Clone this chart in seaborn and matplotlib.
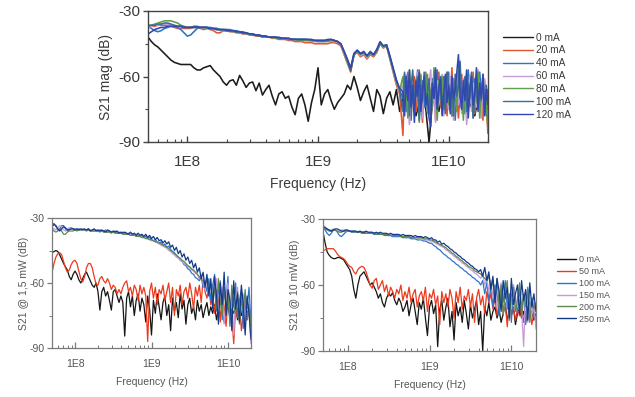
import numpy as np
import pandas as pd
import matplotlib
matplotlib.use("Agg")
import matplotlib.pyplot as plt
from matplotlib.lines import Line2D
from matplotlib.ticker import FixedLocator, LogLocator, NullFormatter
import seaborn as sns

# ---------------- data ----------------
# sweep grids: coarse grid over the full span, finer grid for the noisy top-panel tail
FREQ_HZ = np.logspace(7.7, 10.3, 105)
HEAD_HZ = FREQ_HZ[:78]
TAIL_HZ = np.logspace(9.65, 10.3, 53)

TOP_LABELS = ["0 mA", "20 mA", "40 mA", "60 mA", "80 mA", "100 mA", "120 mA"]
TOP_COLORS = ["#1c1c1c", "#e2562f", "#2f73c4", "#c49ad8", "#5f9e48", "#3b6c98", "#3347b0"]

top_0mA = [-42, -44, -45.5, -46.5, -48, -49.5, -51, -52.5, -53.5, -54, -54.5, -54.5,
           -54.5, -54.5, -56, -57, -57, -56, -55.5, -55, -57, -58.5, -60, -62.5,
           -64, -62, -61.5, -64, -59.5, -62, -65, -63, -62.5, -66.5, -63, -68.5,
           -66, -64, -69, -73, -68, -67, -70, -69, -74, -77.5, -70, -68,
           -73, -80.5, -72, -66, -56, -73, -68, -66, -71, -75, -72, -70,
           -68, -64, -66, -60, -65, -71, -67, -64, -70, -76, -66, -69,
           -77, -70, -67, -73, -66, -76, -70, -67, -73, -70, -78, -72,
           -68, -75, -90, -72, -70, -76, -69, -74, -71, -78, -70, -73,
           -68, -76, -71, -74, -78, -70, -73, -69, -75]

top_20mA_head = [-37, -37, -37, -36.5, -36.5, -36.5, -37, -37, -37.5, -38, -38, -38,
                 -38, -38, -37.5, -37.5, -38, -38.5, -38, -38.5, -39, -40, -40, -39,
                 -39, -39.5, -39.5, -40, -40, -40.5, -40.5, -41, -41, -41.5, -41.5, -42,
                 -42, -42, -42.5, -42.5, -43, -43, -43, -43.5, -43.5, -44, -44, -44,
                 -44.5, -44.5, -44.5, -45, -45, -45, -45, -45, -44.5, -44.5, -45, -46,
                 -50, -54, -58, -50, -49, -51, -50, -52, -50, -51, -49, -45,
                 -47, -46, -52, -58, -64, -68]
top_20mA_tail = [-87, -62, -74, -58, -70, -79, -64, -60, -76, -68, -57, -73, -81, -63,
                 -69, -59, -77, -66, -72, -61, -80, -67, -58, -74, -65, -71, -60, -78,
                 -64, -69, -56, -75, -62, -70, -79, -66, -59, -73, -68, -61, -76, -64,
                 -71, -58, -77, -67, -62, -74, -69, -80, -63, -72, -86]

top_40mA_head = [-37, -38, -39, -39.5, -39, -38, -37.5, -37, -37, -37.5, -38.5, -40,
                 -41.5, -41, -39.5, -38, -37.5, -37.5, -37.5, -37.5, -38, -38, -38.5, -38.5,
                 -38.5, -38.5, -39, -39, -39.5, -39.5, -40, -40.5, -40.5, -41, -41, -41.5,
                 -41.5, -42, -42, -42, -42.5, -42.5, -42.5, -43, -43, -43, -43, -43,
                 -43, -43.5, -43.5, -43.5, -43.5, -43.5, -43.5, -43.5, -43.5, -43.5, -44, -45.5,
                 -49, -53, -57, -50, -48, -50, -49, -51, -49, -50, -48, -44.5,
                 -46.5, -46, -51, -57, -62, -66]
top_40mA_tail = [-70, -58, -76, -63, -67, -80, -60, -72, -65, -57, -78, -69, -62, -74,
                 -59, -71, -66, -79, -61, -68, -75, -57, -70, -64, -77, -60, -73, -67,
                 -58, -76, -63, -71, -80, -65, -59, -74, -68, -62, -77, -66, -57, -72,
                 -64, -79, -61, -70, -75, -58, -67, -73, -62, -78, -66]

top_60mA_head = [-37.5, -37, -36.5, -36.5, -36, -36, -36, -36.5, -37, -37, -37.5, -37.5,
                 -37.5, -37.5, -37.5, -37.5, -37.5, -38, -37.5, -38, -38.5, -38.5, -39, -39,
                 -39, -39, -39.5, -39.5, -40, -40, -40.5, -40.5, -41, -41, -41.5, -41.5,
                 -42, -42, -42, -42.5, -42.5, -42.5, -43, -43, -43, -43, -43.5, -43.5,
                 -43.5, -43.5, -43.5, -44, -44, -44, -44, -43.5, -43.5, -44, -44, -45.5,
                 -49.5, -53, -56, -50, -48.5, -50.5, -49.5, -51.5, -49.5, -50.5, -48.5, -45,
                 -46.5, -46, -51.5, -57.5, -63, -67]
top_60mA_tail = [-64, -75, -59, -71, -82, -66, -61, -77, -69, -58, -73, -65, -79, -60,
                 -70, -76, -63, -57, -74, -68, -81, -62, -72, -66, -59, -78, -64, -70,
                 -75, -60, -67, -80, -63, -58, -73, -69, -77, -61, -65, -82, -71, -59,
                 -76, -63, -68, -74, -57, -70, -79, -64, -61, -75, -69]

top_80mA_head = [-37, -36.5, -36, -35.5, -35, -34.5, -34.5, -34.5, -35, -35.5, -36.5, -37,
                 -37.5, -37.5, -37.5, -37.5, -37.5, -37.5, -38, -38, -38, -38.5, -38.5, -39,
                 -39, -39, -39.5, -39.5, -40, -40, -40.5, -40.5, -41, -41, -41.5, -41.5,
                 -42, -42, -42, -42.5, -42.5, -42.5, -43, -43, -43, -43, -43.5, -43.5,
                 -43.5, -43.5, -43.5, -43.5, -44, -44, -44, -44, -43.5, -43.5, -44, -45.5,
                 -49, -53.5, -57, -50.5, -48.5, -50, -49, -51, -49.5, -50.5, -48.5, -45,
                 -46.5, -46, -51.5, -57, -62.5, -66.5]
top_80mA_tail = [-60, -73, -66, -79, -57, -70, -64, -76, -61, -68, -81, -59, -72, -65,
                 -58, -77, -63, -70, -74, -56, -67, -80, -62, -71, -60, -75, -66, -58,
                 -73, -69, -78, -61, -64, -76, -57, -70, -67, -80, -63, -59, -74, -68,
                 -61, -77, -65, -72, -58, -79, -66, -62, -75, -70, -84]

top_100mA_head = [-36.5, -36.5, -36.5, -36, -36, -35.5, -35.5, -36, -36.5, -37, -37, -37.5,
                  -37.5, -37.5, -37, -37, -37.5, -37.5, -37.5, -38, -38, -38, -38.5, -38.5,
                  -38.5, -39, -39, -39.5, -39.5, -40, -40, -40.5, -41, -41, -41.5, -41.5,
                  -41.5, -42, -42, -42, -42.5, -42.5, -42.5, -42.5, -43, -43, -43, -43,
                  -43, -43, -43.5, -43.5, -43.5, -43.5, -43.5, -43.5, -43, -43.5, -44, -45,
                  -48.5, -52.5, -57.5, -49.5, -48, -49.5, -49, -50.5, -49, -50, -48, -44.5,
                  -46, -45.5, -51, -56.5, -62, -66]
top_100mA_tail = [-76, -59, -68, -62, -78, -65, -57, -72, -69, -60, -80, -64, -71, -58,
                  -74, -67, -61, -79, -63, -70, -56, -75, -66, -60, -73, -68, -77, -58,
                  -65, -71, -62, -78, -59, -69, -64, -53, -72, -66, -60, -76, -63, -70,
                  -58, -79, -67, -61, -74, -65, -71, -59, -77, -64, -70]

top_120mA_head = [-40.5, -39.5, -38.5, -38, -37.5, -37.5, -37, -37, -37, -37, -37, -37.5,
                  -37.5, -37.5, -37.5, -37.5, -37.5, -37.5, -37.5, -38, -38, -38.5, -38.5, -38.5,
                  -39, -39, -39, -39.5, -39.5, -40, -40, -40.5, -40.5, -41, -41, -41.5,
                  -41.5, -42, -42, -42, -42, -42.5, -42.5, -42.5, -43, -43, -43, -43,
                  -43, -43, -43, -43.5, -43.5, -43.5, -43.5, -43, -43, -43.5, -44, -45,
                  -48.5, -52, -56, -49.5, -48, -49.5, -48.5, -50.5, -48.5, -50, -47.5, -44,
                  -46, -45.5, -50.5, -56, -61.5, -65.5]
top_120mA_tail = [-67, -78, -60, -71, -57, -74, -64, -81, -62, -69, -58, -76, -66, -60,
                  -73, -68, -79, -83, -63, -70, -57, -75, -65, -61, -78, -68, -59, -72,
                  -64, -77, -60, -70, -66, -58, -50, -69, -75, -62, -71, -57, -79, -65,
                  -60, -73, -68, -56, -76, -63, -70, -59, -78, -66, -73]

BOT_LABELS = ["0 mA", "50 mA", "100 mA", "150 mA", "200 mA", "250 mA"]
BOT_COLORS = ["#151515", "#ee3a1c", "#2f75cc", "#c89bd8", "#5e8a4c", "#133a8a"]

# --- S21 @ 1.5 mW ---
low_0mA = [-46, -45.5, -45, -45.5, -47, -49, -51, -52.5, -54, -57, -58.5, -56,
           -54.5, -56, -58.5, -60, -58, -56, -55, -57, -59, -61, -62, -60,
           -64, -72.5, -64, -62, -66, -64, -68, -72.5, -64, -63, -66, -69,
           -66, -69, -84.5, -67, -64, -71, -66, -75, -68, -65, -73, -67,
           -70, -78, -66, -72, -84, -68, -74, -65, -71, -77, -69, -66,
           -75, -70, -82, -67, -73, -69, -76, -65, -72, -68, -79, -70,
           -67, -74, -71, -77, -68, -73, -70, -76, -72, -69, -75, -71,
           -74, -70, -77, -72, -75, -71, -78, -73, -70, -76, -72, -74,
           -71, -77, -73, -75, -70, -78, -74, -72, -76]
low_50mA = [-55, -51, -48, -46.5, -46, -47, -50, -53, -55, -54, -51.5, -50,
            -49.5, -51, -54.5, -58, -59.5, -57, -53, -51, -51, -53, -57, -60.5,
            -61, -58, -57, -59, -60, -58, -60, -63, -61, -62, -65, -63,
            -65, -62, -60, -59, -64, -62, -66, -61, -63, -68, -61, -65,
            -62, -66, -87, -64, -60, -67, -62, -70, -63, -65, -61, -68,
            -64, -60, -69, -62, -75, -63, -66, -61, -70, -64, -62, -67,
            -60, -65, -72, -62, -66, -61, -69, -58, -64, -67, -62, -70,
            -66, -74, -63, -68, -78, -65, -71, -80, -67, -70, -75, -88,
            -72, -76, -69, -82, -74, -70, -77, -73, -79]
low_100mA = [-33, -32.5, -34, -35.5, -35, -33.5, -33.5, -35, -36, -35, -34.5, -35,
             -35, -35.5, -35, -35.5, -35, -35.5, -35.5, -35, -35.5, -36, -35.5, -35.5,
             -36, -35.5, -36, -36, -35.5, -36.5, -36, -36.5, -36.5, -36, -37, -36.5,
             -37, -36.5, -37, -37.5, -37, -37.5, -37.5, -38, -37.5, -38, -38.5, -38,
             -39, -38.5, -39.5, -39, -40, -40.5, -40, -41, -41.5, -41, -42.5, -42,
             -43.5, -43, -44.5, -45.5, -46, -47.5, -48, -49.5, -50, -51.5, -52, -53.5,
             -54, -55.5, -56, -57.5, -58, -59, -57, -62, -59, -64, -58, -68,
             -61, -56, -73, -64, -59, -77, -62, -67, -57, -80, -64, -71,
             -60, -75, -68, -63, -81, -66, -72, -62, -78]
low_150mA = [-34.5, -35, -35.5, -34.5, -33.5, -34, -35.5, -36, -35, -34.5, -35, -35.5,
             -35, -35, -35.5, -35.5, -35, -35.5, -35.5, -35.5, -35.5, -36, -36, -35.5,
             -36, -36, -36, -36.5, -36, -36.5, -36.5, -36.5, -36.5, -37, -37, -37,
             -37, -37, -37.5, -37.5, -37.5, -37.5, -38, -38, -38, -38.5, -38.5, -39,
             -39, -39.5, -39.5, -40, -40.5, -40.5, -41, -41.5, -42, -42.5, -43, -43.5,
             -44, -45, -45.5, -46.5, -47, -48, -48.5, -49.5, -50, -51, -51.5, -52.5,
             -53, -54, -54.5, -55.5, -56, -58, -56, -60, -63, -59, -66, -61,
             -70, -64, -58, -75, -66, -62, -79, -68, -60, -73, -65, -84,
             -69, -62, -76, -70, -65, -80, -67, -73, -88]
low_200mA = [-35, -36, -36.5, -36, -35, -36, -37.5, -37.5, -36.5, -36, -36, -36,
             -35.5, -36, -35.5, -35.5, -35.5, -35.5, -36, -35.5, -36, -36, -36, -36,
             -36, -36.5, -36, -36.5, -36.5, -36.5, -36.5, -37, -36.5, -37, -37, -37,
             -37, -37.5, -37.5, -37.5, -37.5, -38, -38, -38, -38.5, -38.5, -38.5, -39,
             -39, -39.5, -39.5, -40, -40, -40.5, -41, -41, -41.5, -42, -42.5, -43,
             -43.5, -44, -45, -45.5, -46.5, -47, -48, -48.5, -49.5, -50, -51, -52,
             -52.5, -53.5, -54, -55, -56, -57, -58.5, -59, -61, -58, -64, -60,
             -67, -62, -72, -58, -69, -75, -63, -71, -66, -78, -61, -70,
             -74, -64, -79, -68, -72, -63, -77, -70, -82]
low_250mA = [-34, -33, -33.5, -35, -36, -35, -34, -34.5, -35.5, -35.5, -35, -35,
             -35.5, -35, -35.5, -35, -35.5, -35, -35.5, -35, -36, -35.5, -35, -36,
             -35.5, -36, -35.5, -36, -36.5, -35.5, -36, -36.5, -36, -36.5, -36, -37,
             -36.5, -37, -36.5, -37, -37.5, -36.5, -37.5, -37, -38, -37, -38, -37.5,
             -38.5, -37.5, -39, -38, -39.5, -38.5, -40, -39, -40.5, -40, -41.5, -40.5,
             -42, -41, -43.5, -42.5, -45, -43.5, -46.5, -45, -48, -46.5, -49.5, -48,
             -51, -49.5, -53, -51, -55, -53, -58, -55, -62, -56, -66, -58,
             -72, -57, -66, -79, -60, -70, -55, -75, -63, -68, -82, -59,
             -72, -65, -78, -61, -70, -84, -66, -74, -86]

# --- S21 @ 10 mW ---
high_0mA = [-36, -41, -45, -46.5, -47.5, -48, -48, -47.5, -47.5, -48, -48.5, -50,
            -51.5, -53, -56, -62, -66, -60, -56, -55, -54, -56, -58, -60,
            -59, -61, -63, -66, -64, -68, -70, -66, -64, -65, -63.5, -67,
            -69, -66, -68, -72, -70, -67, -74, -69, -66, -72, -78, -68,
            -71, -66, -75, -83, -70, -67, -73, -69, -88, -71, -67, -76,
            -70, -66, -79, -72, -85, -68, -74, -70, -77, -67, -73, -80,
            -69, -75, -71, -67, -78, -72, -90, -70, -74, -68, -76, -72,
            -70, -75, -71, -77, -73, -69, -76, -72, -74, -70, -78, -73,
            -71, -75, -72, -77, -70, -74, -72, -76, -73]
high_50mA = [-44.5, -44, -43.5, -43.5, -43.5, -43.5, -44.5, -46, -47, -47.5, -48, -49,
             -50.5, -51.5, -52, -54, -55, -53, -52, -51.5, -52, -54, -57, -60,
             -61.5, -58, -57, -62, -60, -58, -63, -60, -65, -61, -63, -66,
             -62, -64, -60, -67, -63, -66, -61, -68, -64, -62, -70, -65,
             -63, -67, -61, -72, -64, -66, -62, -69, -65, -78, -63, -68,
             -64, -70, -62, -66, -75, -63, -68, -61, -71, -65, -67, -62,
             -70, -64, -77, -66, -62, -69, -65, -73, -63, -68, -64, -71,
             -66, -74, -69, -65, -72, -68, -79, -67, -73, -70, -76, -71,
             -74, -69, -77, -72, -75, -70, -78, -73, -76]
high_100mA = [-34, -35, -36.5, -37.5, -36.5, -35, -35, -36, -37.5, -38, -37, -36,
              -35.5, -35.5, -36, -36, -36, -36, -36, -36.5, -36.5, -36.5, -36.5, -36.5,
              -36.5, -37, -37, -37, -37, -37, -37.5, -37.5, -37.5, -37.5, -38, -38,
              -38, -38, -38, -38.5, -38.5, -38.5, -38.5, -39, -39, -39, -39.5, -39.5,
              -39.5, -40, -40, -40.5, -41, -41, -42, -42.5, -43.5, -44, -45, -46,
              -46.5, -47.5, -48, -49, -49.5, -50.5, -51, -52, -52.5, -53.5, -54, -55,
              -55.5, -56.5, -57, -58, -58.5, -60, -58, -64, -59, -67, -61, -70,
              -60, -65, -74, -62, -68, -58, -71, -64, -77, -60, -67, -73,
              -62, -70, -65, -78, -61, -72, -66, -75, -69]
high_150mA = [-33, -33.5, -34.5, -35, -35, -34.5, -35, -35.5, -35.5, -35, -35, -35,
              -35.5, -35.5, -35.5, -35.5, -36, -35.5, -36, -36, -36, -36, -36.5, -36,
              -36.5, -36.5, -36.5, -36.5, -36.5, -37, -37, -37, -37, -37, -37.5, -37.5,
              -37.5, -37.5, -37.5, -38, -38, -38, -38, -38, -38.5, -38.5, -38.5, -39,
              -39, -39, -39.5, -39.5, -40, -40, -40.5, -41, -41.5, -42, -42.5, -43,
              -44, -44.5, -45.5, -46, -47, -47.5, -48.5, -49, -50, -50.5, -51.5, -52,
              -53, -53.5, -54.5, -55, -56, -57, -55, -60, -57, -63, -58, -66,
              -61, -70, -64, -59, -73, -66, -62, -76, -68, -60, -72, -65,
              -66, -71, -88, -63, -77, -69, -74, -68, -80]
high_200mA = [-34.5, -34.5, -35, -35.5, -35.5, -35, -35, -35.5, -36, -36, -35.5, -35.5,
              -35.5, -35.5, -36, -35.5, -36, -36, -36, -36, -36, -36.5, -36.5, -36.5,
              -36.5, -36.5, -37, -36.5, -37, -37, -37, -37, -37.5, -37.5, -37.5, -37.5,
              -37.5, -37.5, -38, -38, -38, -38, -38, -38.5, -38.5, -38.5, -38.5, -38.5,
              -38.5, -39, -39, -39, -39.5, -39.5, -40, -40.5, -41, -41.5, -42, -42.5,
              -43, -44, -44.5, -45.5, -46, -47, -47.5, -48.5, -49, -50, -50.5, -51.5,
              -52, -52.5, -53.5, -54, -54.5, -55, -56, -57, -58, -56, -62, -58,
              -66, -57, -70, -60, -74, -63, -58, -76, -65, -61, -72, -67,
              -59, -74, -64, -70, -62, -77, -66, -71, -68]
high_250mA = [-33.5, -34, -34.5, -35, -35.5, -35, -34.5, -34.5, -35, -35.5, -35.5, -35,
              -35, -35.5, -35.5, -35.5, -35.5, -36, -35.5, -36, -36, -35.5, -36, -36,
              -36, -36.5, -36, -36.5, -36, -36.5, -36.5, -36.5, -37, -36.5, -37, -37,
              -37, -37, -37.5, -37, -37.5, -37.5, -37.5, -37.5, -38, -37.5, -38, -38,
              -38, -38.5, -38, -38.5, -39, -38.5, -39.5, -39.5, -40.5, -40, -41.5, -41,
              -42, -42.5, -43.5, -44, -45, -45.5, -46.5, -47, -48, -48.5, -49.5, -50,
              -51, -51.5, -52.5, -53, -54, -53, -56, -52, -58, -54, -62, -56,
              -68, -57, -63, -72, -58, -66, -61, -75, -57, -69, -64, -60,
              -73, -58, -67, -62, -76, -59, -70, -64, -72]

TOP_SERIES = [
    (FREQ_HZ, top_0mA),
    (np.concatenate([HEAD_HZ, TAIL_HZ]), top_20mA_head + top_20mA_tail),
    (np.concatenate([HEAD_HZ, TAIL_HZ]), top_40mA_head + top_40mA_tail),
    (np.concatenate([HEAD_HZ, TAIL_HZ]), top_60mA_head + top_60mA_tail),
    (np.concatenate([HEAD_HZ, TAIL_HZ]), top_80mA_head + top_80mA_tail),
    (np.concatenate([HEAD_HZ, TAIL_HZ]), top_100mA_head + top_100mA_tail),
    (np.concatenate([HEAD_HZ, TAIL_HZ]), top_120mA_head + top_120mA_tail),
]
LOW_SERIES = [(FREQ_HZ, s) for s in [low_0mA, low_50mA, low_100mA, low_150mA, low_200mA, low_250mA]]
HIGH_SERIES = [(FREQ_HZ, s) for s in [high_0mA, high_50mA, high_100mA, high_150mA, high_200mA, high_250mA]]

X_TICKS = [1e8, 1e9, 1e10]
X_TICK_LABELS = ["1E8", "1E9", "1E10"]
Y_TICKS = [-90, -60, -30]


def long_form(series, labels):
    frames = []
    for (freq, vals), lab in zip(series, labels):
        frames.append(pd.DataFrame({"Frequency": freq, "S21": vals, "Bias": lab}))
    return pd.concat(frames, ignore_index=True)


# ---------------- style ----------------
sns.set_theme(style="ticks")
plt.rcParams["font.family"] = ["Liberation Sans", "DejaVu Sans"]
plt.rcParams["axes.unicode_minus"] = False

fig = plt.figure(figsize=(6.35, 3.97), dpi=100)

ax_top = fig.add_axes([148 / 635, 1 - 142 / 397, 340 / 635, 131 / 397])
ax_bl = fig.add_axes([52 / 635, 1 - 348 / 397, 199 / 635, 130 / 397])
ax_br = fig.add_axes([323 / 635, 1 - 351 / 397, 213 / 635, 132 / 397])


def draw(ax, series, labels, colors, lw):
    df = long_form(series, labels)
    sns.lineplot(data=df, x="Frequency", y="S21", hue="Bias", hue_order=labels,
                 palette=dict(zip(labels, colors)), estimator=None, sort=False,
                 linewidth=lw, legend=False, ax=ax)


def style_axes(ax, tick_fs, label_fs, ylabel, spine_col, text_col, lw, xpad, ylabelpad):
    ax.set_xscale("log")
    ax.set_xlim(5e7, 2e10)
    ax.set_ylim(-90, -30)
    ax.xaxis.set_major_locator(FixedLocator(X_TICKS))
    ax.set_xticklabels(X_TICK_LABELS)
    ax.xaxis.set_minor_locator(LogLocator(base=10, subs=np.arange(2, 10)))
    ax.xaxis.set_minor_formatter(NullFormatter())
    ax.yaxis.set_major_locator(FixedLocator(Y_TICKS))
    ax.yaxis.set_minor_locator(FixedLocator([-75, -45]))
    ax.tick_params(axis="x", which="major", direction="in", length=4, width=lw,
                   colors=spine_col, labelcolor=text_col, labelsize=tick_fs, pad=xpad)
    ax.tick_params(axis="x", which="minor", direction="in", length=2.5, width=lw * 0.8,
                   colors=spine_col)
    ax.tick_params(axis="y", which="major", direction="out", length=3.5, width=lw,
                   colors=spine_col, labelcolor=text_col, labelsize=tick_fs, pad=2)
    ax.tick_params(axis="y", which="minor", direction="out", length=2.5, width=lw * 0.8,
                   colors=spine_col)
    for sp in ax.spines.values():
        sp.set_color(spine_col)
        sp.set_linewidth(lw)
    ax.set_xlabel("Frequency (Hz)", fontsize=label_fs, color=text_col, labelpad=6)
    ax.set_ylabel(ylabel, fontsize=label_fs, color=text_col, labelpad=ylabelpad)


draw(ax_top, TOP_SERIES, TOP_LABELS, TOP_COLORS, 1.15)
draw(ax_bl, LOW_SERIES, BOT_LABELS, BOT_COLORS, 0.9)
draw(ax_br, HIGH_SERIES, BOT_LABELS, BOT_COLORS, 0.9)

style_axes(ax_top, 11, 10, "S21 mag (dB)", "#444444", "#3a3a3a", 1.0, 9, 4)
style_axes(ax_bl, 7.5, 7.5, "S21 @ 1,5 mW (dB)", "#7a7a7a", "#555555", 0.9, 8, 0)
style_axes(ax_br, 7.5, 7.5, "S21 @ 10 mW (dB)", "#7a7a7a", "#555555", 0.9, 8, 0.5)

top_handles = [Line2D([0], [0], color=c, lw=1.0) for c in TOP_COLORS]
fig.legend(top_handles, TOP_LABELS, loc="upper left", bbox_to_anchor=(0.777, 0.941),
           frameon=False, fontsize=7.3, handlelength=3.0, handletextpad=0.3,
           labelspacing=0.28, labelcolor="#3a3a3a")

bot_handles = [Line2D([0], [0], color=c, lw=1.0) for c in BOT_COLORS]
fig.legend(bot_handles, BOT_LABELS, loc="upper left", bbox_to_anchor=(0.865, 0.378),
           frameon=False, fontsize=6.5, handlelength=2.1, handletextpad=0.3,
           labelspacing=0.32, labelcolor="#555555")

fig.savefig("out.png", dpi=100, facecolor="white")
